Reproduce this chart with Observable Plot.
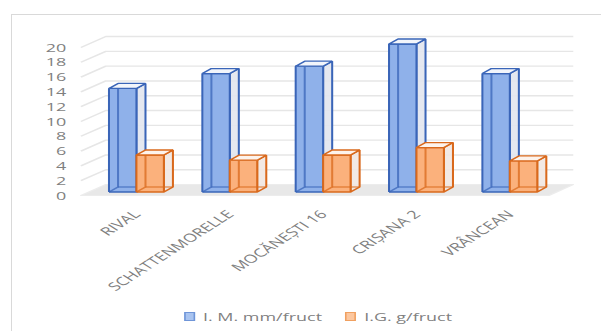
<!DOCTYPE html>
<html><head><meta charset="utf-8">
<script src="https://cdn.jsdelivr.net/npm/d3@7"></script>
<script src="https://cdn.jsdelivr.net/npm/@observablehq/plot@0.6"></script>
<style>
body{margin:0;background:#fff;overflow:hidden;width:601px;height:331px;position:relative}
#frame{position:absolute;left:11px;top:14px;width:700px;height:400px;border-left:1px solid #d9d9d9;border-top:1px solid #d9d9d9}
#chart{position:absolute;left:0;top:0;width:385px;transform:scaleX(1.561);transform-origin:0 0;font-family:"Open Sans",sans-serif}
#legend{position:absolute;left:118px;top:309px;display:flex;align-items:center;font-size:11.5px;color:#7f7f7f;white-space:nowrap}
.sw{display:inline-block;width:5px;height:6.5px;margin-right:5px;border:0.6px solid}
.item{display:flex;align-items:center;margin-right:15px}
</style></head>
<body>
<div id="frame"></div>
<div id="chart"></div>
<script>
const categories = ["RIVAL", "SCHATTENMORELLE", "MOCĂNEȘTI 16", "CRIȘANA 2", "VRÂNCEAN"];
const seriesNames = ["I. M. mm/fruct", "I.G. g/fruct"];
const imValues = [14, 16, 17, 20, 16];
const igValues = [5, 4.3, 5, 6, 4.2];
const yTicks = [0, 2, 4, 6, 8, 10, 12, 14, 16, 18, 20];

const seriesValues = [imValues, igValues];
const styles = [
  {stroke: "#3a65b8", front: "#8fb1ea", side: "#e2e6ee", top: "#f2f5fb"},
  {stroke: "#d9691c", front: "#fbb17c", side: "#f1e7e1", top: "#fdf3ec"}
];

// 3D geometry (data units)
const w = 0.294, ddx = 0.097, ddy = 0.676;
const wallL = -0.095, wallB = 0.172, wallR = 5.18, floorFR = 4.92, frontY = -0.47, backY = 1.01;

function poly(key, pts) { return pts.map(([x, y]) => ({key, x, y})); }

const marks = [];
// floor
marks.push(Plot.line(poly("floor", [[wallL, frontY], [floorFR, frontY], [wallR, backY], [wallB, backY], [wallL, frontY]]),
  {x: "x", y: "y", z: "key", fill: "#e8e8e8", stroke: "#ececec", strokeWidth: 1}));
// gridlines (side wall + back wall)
const grid = yTicks.filter(v => v > 0).flatMap(v => poly("g" + v, [[wallL, v + frontY], [wallB, v + backY], [wallR, v + backY]]));
marks.push(Plot.line(grid, {x: "x", y: "y", z: "key", stroke: "#e6e6e6", strokeWidth: 1.4, strokeLinecap: "butt"}));

seriesValues.forEach((vals, s) => {
  const st = styles[s];
  const side = [], front = [], top = [], back = [];
  vals.forEach((v, i) => {
    const x1 = i + 0.5 - w + s * w, x2 = x1 + w;
    side.push(...poly(`s${i}`, [[x2, 0], [x2 + ddx, ddy], [x2 + ddx, v + ddy], [x2, v], [x2, 0]]));
    front.push(...poly(`f${i}`, [[x1, 0], [x2, 0], [x2, v], [x1, v], [x1, 0]]));
    top.push(...poly(`t${i}`, [[x1, v], [x2, v], [x2 + ddx, v + ddy], [x1 + ddx, v + ddy], [x1, v]]));
    back.push(...poly(`b${i}a`, [[x1, 0], [x1 + ddx, ddy], [x1 + ddx, v + ddy]]));
    back.push(...poly(`b${i}b`, [[x1 + ddx, ddy], [x2 + ddx, ddy]]));
  });
  const common = {x: "x", y: "y", z: "key", stroke: st.stroke, strokeWidth: 1.3, strokeLinejoin: "miter", strokeLinecap: "butt"};
  marks.push(Plot.line(side, {...common, fill: st.side, fillOpacity: 0.9}));
  marks.push(Plot.line(front, {...common, fill: st.front}));
  marks.push(Plot.line(back, {...common, fill: "none", strokeOpacity: 0.75}));
  marks.push(Plot.line(top, {...common, fill: st.top}));
});

marks.push(Plot.axisY({ticks: yTicks, label: null, tickSize: 0, tickPadding: 15, dy: 4, fontSize: 11.5, color: "#7f7f7f", tickFormat: d => String(d)}));
marks.push(Plot.text(categories, {x: (d, i) => i + 0.5, y: () => 0, text: d => d, rotate: -45, textAnchor: "end", lineAnchor: "middle", dx: 0.6, dy: 20.4, fontSize: 11.5, fill: "#7f7f7f"}));

const chart = Plot.plot({
  width: 385, height: 300,
  marginLeft: 57, marginRight: 29, marginTop: 43.5, marginBottom: 108.5,
  x: {domain: [0, 5], axis: null},
  y: {domain: [0, 20], axis: null},
  style: {fontFamily: "Open Sans, sans-serif", fontSize: "11.5px", color: "#7f7f7f", background: "transparent", overflow: "visible"},
  marks
});
const host = document.getElementById("chart");
host.appendChild(chart);

const legend = document.createElement("div");
legend.id = "legend";
seriesNames.forEach((name, s) => {
  const item = document.createElement("div");
  item.className = "item";
  const sw = document.createElement("span");
  sw.className = "sw";
  sw.style.background = s === 0 ? "#a9c4f0" : "#fcc79f";
  sw.style.borderColor = s === 0 ? "#6f95d8" : "#f0a060";
  const t = document.createElement("span");
  t.textContent = name;
  item.appendChild(sw); item.appendChild(t);
  legend.appendChild(item);
});
host.appendChild(legend);
</script>
</body></html>
